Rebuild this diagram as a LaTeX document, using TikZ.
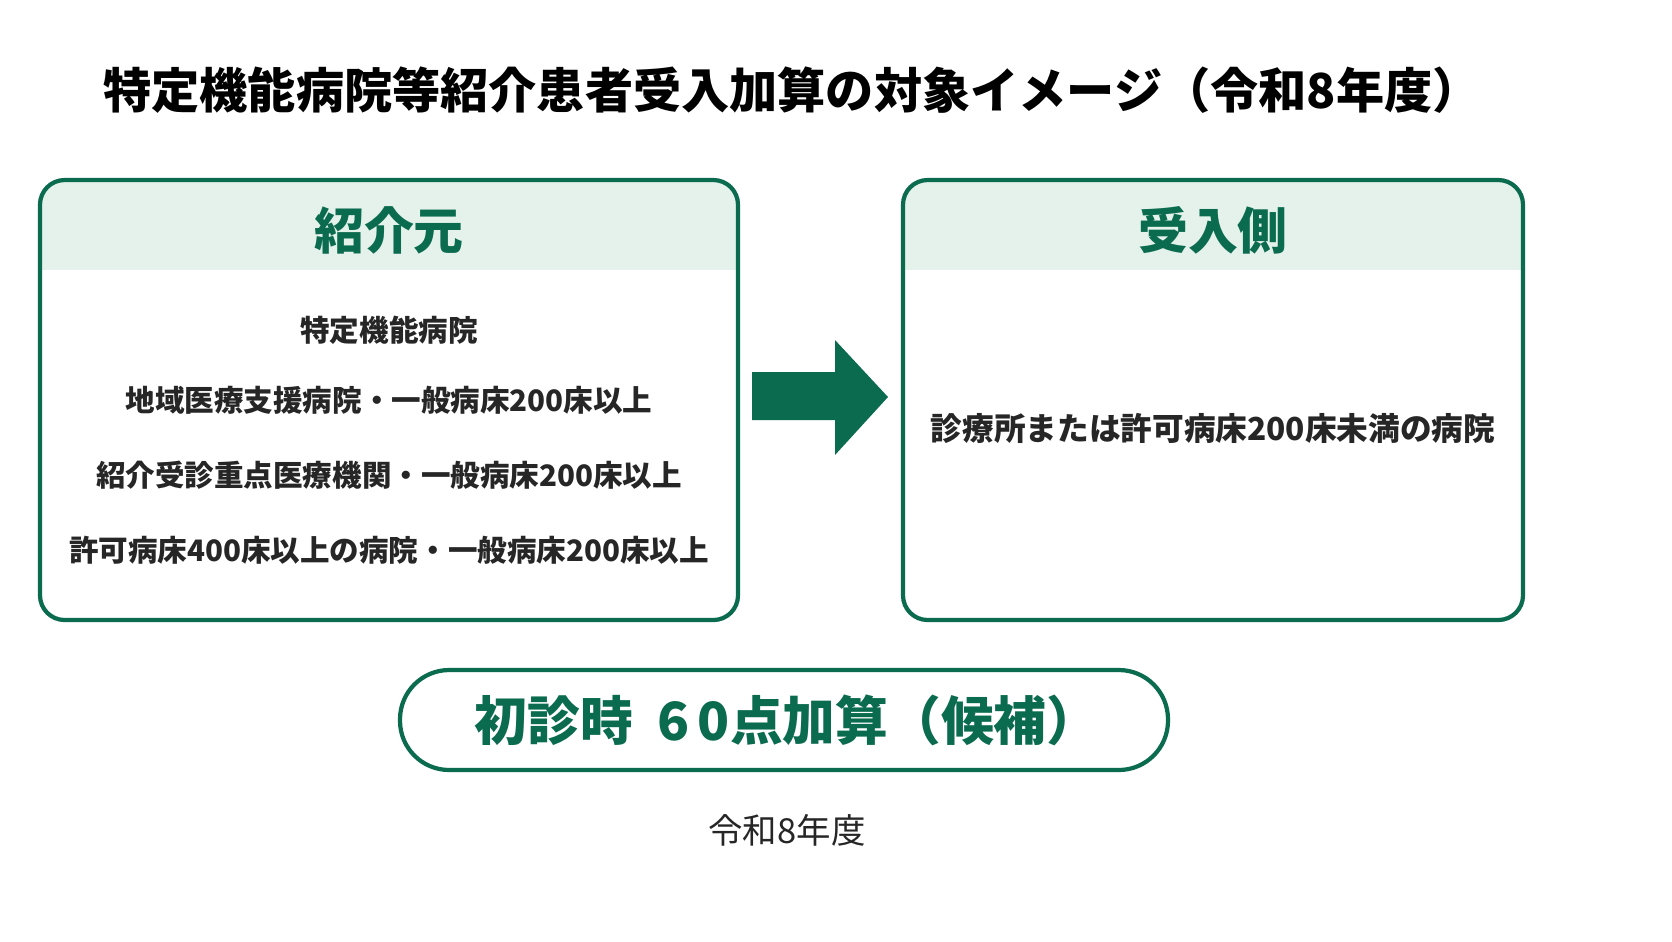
\documentclass[tikz,border=0pt]{standalone}
\usepackage{fontspec}
\setmainfont{Noto Sans CJK JP}
\usetikzlibrary{positioning}
\definecolor{dgreen}{HTML}{0B6B4F}
\definecolor{lgreen}{HTML}{E4F2EB}
\tikzset{
  frame/.style={draw=dgreen,line width=1.2pt,rounded corners=7pt},
  head/.style={text=dgreen,font=\fontsize{14.2}{16}\selectfont\bfseries},
  item/.style={font=\fontsize{8.4}{10}\selectfont\bfseries,text=black!85}
}
\begin{document}
\begin{tikzpicture}[x=0.01cm,y=-0.01cm]
  \useasboundingbox (0,0) rectangle (1672,941);
  \node[font=\fontsize{13.7}{16}\selectfont\bfseries] (title) at (792,90) {特定機能病院等紹介患者受入加算の対象イメージ（令和8年度）};
  % left box
  \begin{scope}
    \clip[rounded corners=7pt] (40,180) rectangle (738,620);
    \fill[lgreen] (40,180) rectangle (738,270);
  \end{scope}
  \draw[frame] (40,180) rectangle (738,620);
  \node[head] (src) at (389,230) {紹介元};
  \node[item] (s1) at (389,330) {特定機能病院};
  \node[item] (s2) at (389,400) {地域医療支援病院・一般病床200床以上};
  \node[item] (s3) at (389,475) {紹介受診重点医療機関・一般病床200床以上};
  \node[item] (s4) at (389,550) {許可病床400床以上の病院・一般病床200床以上};
  % right box
  \begin{scope}
    \clip[rounded corners=7pt] (903,180) rectangle (1523,620);
    \fill[lgreen] (903,180) rectangle (1523,270);
  \end{scope}
  \draw[frame] (903,180) rectangle (1523,620);
  \node[head] (dst) at (1213,230) {受入側};
  \node[item,font=\fontsize{9}{11}\selectfont\bfseries] (d1) at (1213,428) {診療所または許可病床200床未満の病院};
  % arrow
  \fill[dgreen] (752,372) -- (835,372) -- (835,340) -- (888,397) -- (835,455) -- (835,420) -- (752,420) -- cycle;
  % bottom
  \draw[frame,rounded corners=14pt] (400,670) rectangle (1168,770);
  \node[text=dgreen,font=\fontsize{15}{18}\selectfont\bfseries] (pts) at (787,720) {初診時\ \ 6\,0点加算（候補）};
  \node[font=\fontsize{9.8}{12}\selectfont,text=black!85] (year) at (787,830) {令和8年度};
\end{tikzpicture}
\end{document}
